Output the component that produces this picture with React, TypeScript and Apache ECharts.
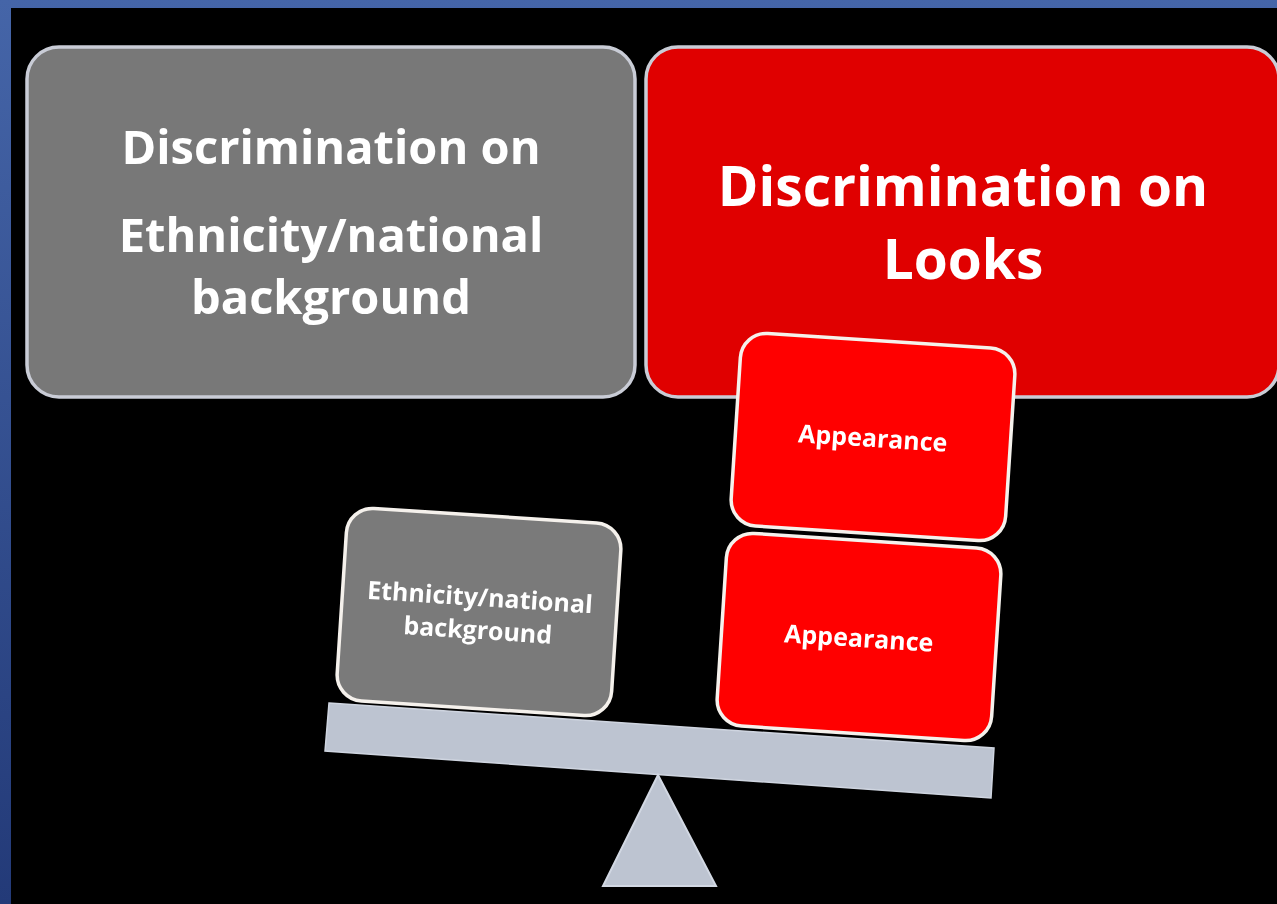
import React, { useEffect, useRef } from "react";
import * as echarts from "echarts";

const topLeftLines = ["Discrimination on", "Ethnicity/national", "background"];
const topRightLines = ["Discrimination on", "Looks"];
const leftBlockLines = ["Ethnicity/national", "background"];
const rightBlockLabels = ["Appearance", "Appearance"];

const W = 1277;
const H = 904;
const TILT = -0.065;
const FONT = '"Open Sans", sans-serif';

function block(cx: number, cy: number, fill: string, lines: string[], lineOffsets: number[]) {
  const w = 275;
  const h = 193;
  return {
    type: "group",
    x: cx,
    y: cy,
    rotation: TILT,
    children: [
      {
        type: "rect",
        shape: { x: -w / 2, y: -h / 2, width: w, height: h, r: 26 },
        style: { fill, stroke: "#f5f1ec", lineWidth: 3.5 },
      },
      ...lines.map((t, i) => ({
        type: "text",
        x: 0,
        y: lineOffsets[i],
        style: {
          text: t,
          fill: "#ffffff",
          font: `bold 25px ${FONT}`,
          textAlign: "center",
          textVerticalAlign: "middle",
          align: "center",
          verticalAlign: "middle",
        },
      })),
    ],
  };
}

function bigText(text: string, x: number, y: number, size: number) {
  return {
    type: "text",
    x,
    y,
    style: {
      text,
      fill: "#ffffff",
      font: `bold ${size}px ${FONT}`,
      textAlign: "center",
      textVerticalAlign: "middle",
      align: "center",
      verticalAlign: "middle",
    },
  };
}

export default function App() {
  const ref = useRef<HTMLDivElement>(null);
  useEffect(() => {
    if (!ref.current) return;
    const chart = echarts.init(ref.current, null, { renderer: "svg" });
    const elements: any[] = [
      {
        type: "rect",
        shape: { x: 0, y: 0, width: W, height: H },
        style: {
          fill: new echarts.graphic.LinearGradient(0, 0, 0, 1, [
            { offset: 0, color: "#4565a8" },
            { offset: 1, color: "#233a78" },
          ]),
        },
      },
      {
        type: "rect",
        shape: { x: 11, y: 8, width: W - 11, height: H - 8 },
        style: { fill: "#000000" },
      },
      {
        type: "rect",
        shape: { x: 27, y: 47, width: 608, height: 350, r: 32 },
        style: { fill: "#787878", stroke: "#c9ccd6", lineWidth: 3.5 },
      },
      {
        type: "rect",
        shape: { x: 646, y: 47, width: 633, height: 350, r: 32 },
        style: { fill: "#e00000", stroke: "#c9ccd6", lineWidth: 3.5 },
      },
      bigText(topLeftLines[0], 331, 146, 47),
      bigText(topLeftLines[1], 331, 234, 47),
      bigText(topLeftLines[2], 331, 296, 47),
      bigText(topRightLines[0], 963, 184, 55),
      bigText(topRightLines[1], 963, 257, 55),
      {
        type: "polygon",
        shape: {
          points: [
            [329, 703],
            [994, 748],
            [991, 798],
            [325, 751],
          ],
        },
        style: { fill: "#bdc4d1", stroke: "#cfd5e0", lineWidth: 1.5 },
      },
      {
        type: "polygon",
        shape: {
          points: [
            [658, 775],
            [716, 886],
            [603, 886],
          ],
        },
        style: { fill: "#bdc4d1", stroke: "#d2d8e3", lineWidth: 2 },
      },
      block(479, 612, "#7a7a7a", leftBlockLines, [-16, 17]),
      block(873, 437, "#ff0000", [rightBlockLabels[0]], [0]),
      block(859, 637, "#ff0000", [rightBlockLabels[1]], [0]),
    ];
    chart.setOption({ animation: false, graphic: { elements } });
    return () => chart.dispose();
  }, []);
  return (
    <div
      ref={ref}
      style={{ position: "fixed", left: 0, top: 0, width: W, height: H }}
    />
  );
}
